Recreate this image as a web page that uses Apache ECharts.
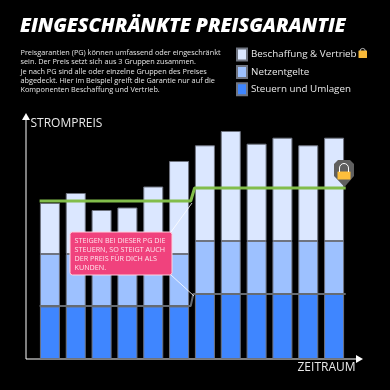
<!DOCTYPE html>
<html><head><meta charset="utf-8">
<style>html,body{margin:0;padding:0;background:#000}#c{width:390px;height:390px}</style>
<script src="https://cdn.jsdelivr.net/npm/echarts@6/dist/echarts.min.js"></script>
</head><body><div id="c"></div>
<script>
const categories = ['1','2','3','4','5','6','7','8','9','10','11','12'];
const steuern = [52.5,52.5,52.5,52.5,52.5,52.5,65,65,65,65,65,65];
const netz = [52.5,52.5,52.5,52.5,52.5,52.5,53,53,53,53,53,53];
const beschaffung = [51,61,44,46.5,67.5,93,95.7,110,97.3,103.3,95.7,103.3];
const garantieX = [0.1,5.95,6.1,11.95];
const garantieY = [158,158,171,171];
const sockelX = [0.1,5.95,6.05,11.95];
const sockelY = [53,53,65,65];
const seriesNames = ['Beschaffung & Vertrieb','Netzentgelte','Steuern und Umlagen'];
const introLines = [
 'Preisgarantien (PG) können umfassend oder eingeschränkt',
 'sein. Der Preis setzt sich aus 3 Gruppen zusammen.',
 'Je nach PG sind alle oder einzelne Gruppen des Preises',
 'abgedeckt. Hier im Beispiel greift die Garantie nur auf die',
 'Komponenten Beschaffung und Vertrieb.'];
const calloutLines = ['STEIGEN BEI DIESER PG DIE','STEUERN, SO STEIGT AUCH','DER PREIS FÜR DICH ALS','KUNDEN.'];
const font = '"Open Sans"';
const zip=(a,b)=>a.map((v,i)=>[v,b[i]]);
const chart = echarts.init(document.getElementById('c'),null,{renderer:'canvas'});
const barStyle=c=>({color:c,borderColor:'#6f7480',borderWidth:1});
chart.setOption({
 backgroundColor:'#000',animation:false,
 grid:{left:37,right:43,top:113,bottom:31,containLabel:false},
 xAxis:[
  {type:'category',data:categories,axisTick:{show:false},axisLabel:{show:false},axisLine:{show:false},splitLine:{show:false}},
  {type:'value',min:0,max:12,show:false}
 ],
 yAxis:{type:'value',min:0,max:246,axisLine:{show:false},axisTick:{show:false},axisLabel:{show:false},splitLine:{show:false}},
 legend:{show:true,orient:'vertical',left:236,top:47.5,padding:0,itemWidth:10,itemHeight:12,itemGap:3.4,selectedMode:false,icon:'rect',
  data:seriesNames,textStyle:{color:'#e8e8e8',fontFamily:font,fontSize:9.8,lineHeight:12,padding:[0,0,0,-1]}},
 series:[
  {name:seriesNames[2],type:'bar',stack:'p',data:steuern,barWidth:20,itemStyle:barStyle('#3f86ff')},
  {name:seriesNames[1],type:'bar',stack:'p',data:netz,barWidth:20,itemStyle:barStyle('#9dc1ff')},
  {name:seriesNames[0],type:'bar',stack:'p',data:beschaffung,barWidth:20,itemStyle:barStyle('#dbe7ff')},
  {name:'Sockel',type:'line',xAxisIndex:1,data:zip(sockelX,sockelY),showSymbol:false,lineStyle:{color:'#666b72',width:2},z:5},
  {name:'Garantie',type:'line',xAxisIndex:1,data:zip(garantieX,garantieY),showSymbol:false,lineStyle:{color:'#82bd4b',width:3},z:6}
 ],
 graphic:[
  {type:'text',left:20,top:16.5,style:{text:'EINGESCHRÄNKTE PREISGARANTIE',fill:'#fff',font:'italic 800 19.5px "Open Sans"'}},
  ...introLines.map((t,i)=>({type:'text',left:20.5,top:49.5+i*9.25,style:{text:t,fill:'#e4e4e4',font:'7.3px "Open Sans"'}})),
  {type:'line',shape:{x1:26,y1:117,x2:26,y2:359},style:{stroke:'#a8a8a8',lineWidth:1.5}},
  {type:'polygon',shape:{points:[[22,120],[30,120],[26,113]]},style:{fill:'#fff'}},
  {type:'line',shape:{x1:26,y1:359,x2:358,y2:359},style:{stroke:'#fff',lineWidth:1.2}},
  {type:'polygon',shape:{points:[[356,355],[363,359],[356,363]]},style:{fill:'#fff'}},
  {type:'text',left:30.5,top:118,style:{text:'STROMPREIS',fill:'#e8e8e8',font:'12px "Open Sans"'}},
  {type:'text',left:297.5,top:362,style:{text:'ZEITRAUM',fill:'#e8e8e8',font:'12px "Open Sans"'}},
  {type:'polyline',z:20,shape:{points:[[171,232],[192,203]]},style:{stroke:'#fff',lineWidth:0.8,fill:null}},
  {type:'polyline',z:20,shape:{points:[[171,275],[194,296]]},style:{stroke:'#fff',lineWidth:0.8,fill:null}},
  {type:'rect',z:21,shape:{x:70,y:232,width:102,height:43,r:2.5},style:{fill:'#f0427d',stroke:'#ffd2e0',lineWidth:1}},
  ...calloutLines.map((t,i)=>({type:'text',z:22,left:74.5,top:237+i*9.3,style:{text:t,fill:'#ffe3ec',font:'7.2px "Open Sans"'}})),
  {type:'polygon',z:23,shape:{points:[[344.5,187],[334,176],[334,164],[338,160],[350,160],[354,164],[354,176]]},style:{fill:'#5f5f5f'}},
  {type:'rect',z:24,shape:{x:337.5,y:171.5,width:13,height:8,r:0.5},style:{fill:'#fdbf3c'}},
  {type:'arc',z:24,shape:{cx:344,cy:168,r:4.5,startAngle:Math.PI,endAngle:0},style:{stroke:'#fff',fill:null,lineWidth:1}},
  {type:'line',z:24,shape:{x1:339.5,y1:168,x2:339.5,y2:172},style:{stroke:'#fff',lineWidth:1}},
  {type:'line',z:24,shape:{x1:348.5,y1:168,x2:348.5,y2:172},style:{stroke:'#fff',lineWidth:1}},
  {type:'rect',z:3,shape:{x:358.5,y:50.5,width:8.5,height:7.5,r:0.5},style:{fill:'#f8b93a'}},
  {type:'arc',z:3,shape:{cx:362.7,cy:51,r:2.6,startAngle:Math.PI,endAngle:0},style:{stroke:'#d9d9d9',fill:null,lineWidth:0.8}}
 ]
});
</script></body></html>
